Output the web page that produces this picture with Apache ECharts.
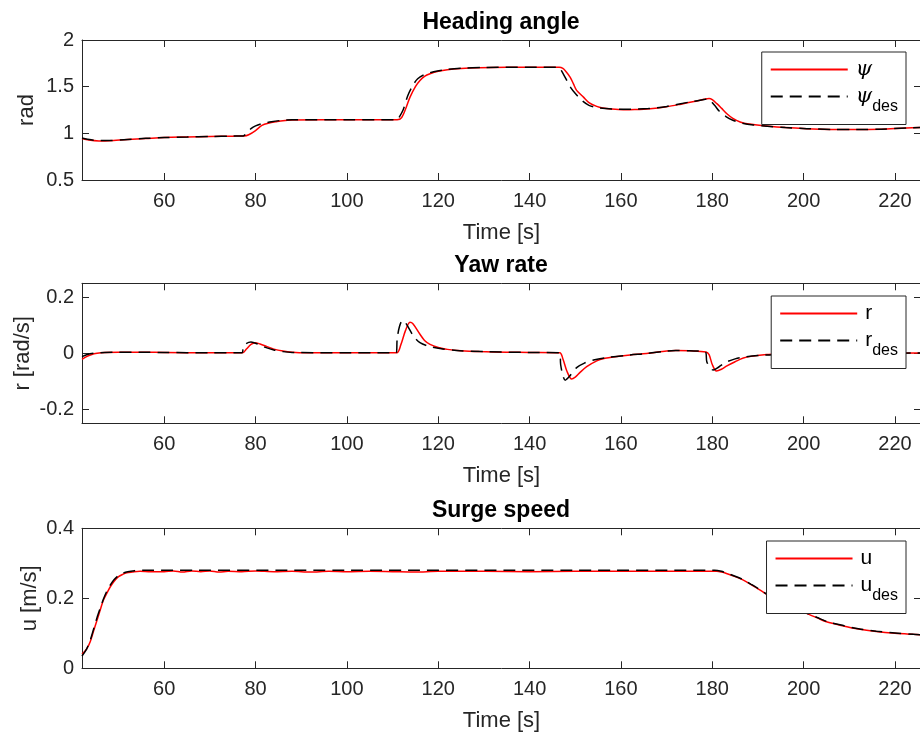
<!DOCTYPE html>
<html>
<head>
<meta charset="utf-8">
<script src="https://cdn.jsdelivr.net/npm/echarts@6/dist/echarts.min.js"></script>
<style>
  html, body { margin: 0; padding: 0; background: #fff; }
  #chart { width: 920px; height: 740px; }
</style>
</head>
<body>
<div id="chart"></div>
<script>
// ---- Time axis ----
const timeMin = 42;
const timeMax = 225.7;
const timeTicks = [60, 80, 100, 120, 140, 160, 180, 200, 220];

// ---- Heading angle [rad] ----
const headingT = [42, 43.5, 45.7, 48, 52, 56, 60, 65, 70, 75, 77.5, 78.5, 80, 81.4, 83, 84.4, 86, 88, 95, 105, 111,
  112, 113, 113.8, 115, 116, 117, 118.2, 120, 122, 125, 129, 135, 140, 146.5, 147.3, 148, 148.9, 149.6, 150.3,
  151.8, 153, 154.7, 156, 158, 160.5, 163, 166.4, 170, 172.9, 176, 178.5, 179.3, 180, 181, 182, 183.2, 184.5,
  186.1, 188, 191.9, 196, 200.7, 206, 211.6, 217, 222.5, 225.7];
const headingPsi = [0.945, 0.928, 0.919, 0.921, 0.935, 0.945, 0.955, 0.961, 0.966, 0.970, 0.972, 0.985, 1.03, 1.085, 1.11, 1.123, 1.136, 1.143, 1.145, 1.145, 1.146,
  1.17, 1.28, 1.385, 1.50, 1.566, 1.61, 1.638, 1.665, 1.682, 1.694, 1.702, 1.707, 1.708, 1.708, 1.695, 1.66, 1.60, 1.53, 1.46,
  1.388, 1.33, 1.289, 1.272, 1.26, 1.253, 1.255, 1.264, 1.285, 1.31, 1.34, 1.368, 1.372, 1.36, 1.318, 1.27, 1.21, 1.16,
  1.122, 1.10, 1.079, 1.062, 1.05, 1.042, 1.04, 1.045, 1.058, 1.062];

const headingDesT = [42, 44, 46, 48, 52, 56, 60, 65, 70, 75, 77.3, 78, 79, 80, 81.5, 83.5, 86, 88, 100, 111,
  111.3, 112.3, 113.3, 114.4, 115.5, 117, 119, 122, 125, 130, 140, 146.4, 147, 148, 149, 150.3, 151.5, 153, 155,
  158, 162, 166, 170, 175, 178.5, 179, 180.5, 181.5, 183, 184.5, 186.5, 189, 192, 196, 200.7, 206, 211.6, 217, 222.5, 225.7];
const headingPsiDes = [0.95, 0.93, 0.922, 0.923, 0.935, 0.946, 0.955, 0.960, 0.966, 0.970, 0.972, 1.0, 1.05, 1.08, 1.105, 1.125, 1.14, 1.145, 1.146, 1.146,
  1.16, 1.25, 1.40, 1.51, 1.585, 1.63, 1.66, 1.685, 1.697, 1.705, 1.708, 1.708, 1.67, 1.58, 1.49, 1.41, 1.35, 1.30, 1.275,
  1.262, 1.258, 1.265, 1.288, 1.335, 1.365, 1.37, 1.30, 1.24, 1.18, 1.14, 1.11, 1.09, 1.077, 1.062, 1.05, 1.042, 1.04, 1.045, 1.058, 1.062];

// ---- Yaw rate [rad/s] ----
const yawT = [42, 43, 44, 45.3, 47, 50, 55, 60, 70, 77.2, 78, 79, 79.9, 81, 82.5, 84, 86, 88, 91, 110.9,
  111.8, 112.8, 113.8, 114.5, 116, 117, 118.2, 120, 122, 125, 129, 135, 140, 146.6, 147.3, 148.2, 149.2, 150,
  151, 152.5, 154.7, 156.5, 158.3, 162, 165.6, 170, 172, 175, 178.6, 179.3, 180, 180.9, 182, 183.2, 185, 186.8,
  188.5, 191.9, 195, 200, 210, 225.7];
const yawR = [-0.022, -0.012, -0.005, 0, 0.003, 0.004, 0.004, 0.003, 0.002, 0.002, 0.015, 0.032, 0.038, 0.033, 0.024, 0.015, 0.008, 0.004, 0.002, 0.002,
  0.03, 0.08, 0.111, 0.105, 0.068, 0.046, 0.032, 0.021, 0.014, 0.009, 0.006, 0.004, 0.003, 0.002, -0.02, -0.065, -0.092, -0.085,
  -0.069, -0.048, -0.027, -0.018, -0.013, -0.006, -0.001, 0.008, 0.010, 0.009, 0.005, -0.005, -0.04, -0.063, -0.057, -0.045, -0.03, -0.017,
  -0.011, -0.004, -0.002, -0.001, 0, 0.001];

const yawDesT = [42, 43, 44.5, 47, 50, 55, 60, 70, 77, 77.3, 77.8, 79, 80.5, 82, 84, 86, 88, 100, 110.8,
  111, 111.5, 112.2, 113, 114.6, 116, 118, 120, 124, 130, 140, 146.6, 146.8, 147.3, 147.8, 148.6, 150.3, 152,
  154, 157, 162, 165.6, 170, 172, 175, 178.5, 178.8, 179.5, 180.2, 181.5, 183, 185, 187, 190, 195, 200, 210, 225.7];
const yawRDes = [-0.012, -0.005, 0, 0.003, 0.004, 0.004, 0.003, 0.002, 0.002, 0.02, 0.033, 0.04, 0.033, 0.022, 0.012, 0.006, 0.003, 0.002, 0.002,
  0.05, 0.095, 0.118, 0.105, 0.061, 0.038, 0.025, 0.018, 0.01, 0.006, 0.003, 0.002, -0.04, -0.08, -0.096, -0.085, -0.051, -0.035,
  -0.024, -0.015, -0.006, -0.001, 0.008, 0.010, 0.009, 0.005, -0.03, -0.05, -0.06, -0.048, -0.032, -0.02, -0.013, -0.008, -0.004, -0.002, -0.001, 0.001];

// ---- Surge speed [m/s] ----
const surgeT = [42, 43, 43.8, 44.5, 45.3, 46, 46.7, 47.5, 48.2, 49, 50, 51, 51.8, 53, 54.7, 57, 60, 62, 64, 66,
  68, 70, 72, 74, 77, 80, 84, 88, 92, 96, 100, 105, 110, 115, 120, 130, 140, 150, 160, 170, 180, 181, 182,
  183.1, 185, 186.8, 188.5, 190.4, 193, 196, 198.5, 200.6, 203, 205, 208.7, 212, 215.9, 220, 224, 225.7];
const surgeU = [0.041, 0.055, 0.076, 0.105, 0.138, 0.167, 0.195, 0.216, 0.233, 0.248, 0.262, 0.269, 0.273, 0.275, 0.277, 0.276, 0.276, 0.278, 0.275, 0.278,
  0.276, 0.278, 0.275, 0.277, 0.276, 0.278, 0.276, 0.277, 0.275, 0.277, 0.276, 0.277, 0.276, 0.275, 0.277, 0.277, 0.276, 0.277, 0.277, 0.277, 0.277, 0.277, 0.275,
  0.271, 0.262, 0.252, 0.239, 0.224, 0.202, 0.18, 0.166, 0.157, 0.144, 0.133, 0.121, 0.112, 0.105, 0.100, 0.097, 0.096];

const surgeDesT = [42, 43, 43.8, 44.5, 45.3, 46, 46.7, 47.5, 48.2, 49, 50, 51, 52, 53.5, 55, 100, 150, 180.5, 182,
  183.1, 185, 186.8, 188.5, 190.4, 193, 196, 198.5, 200.6, 203, 205, 208.7, 212, 215.9, 220, 224, 225.7];
const surgeUDes = [0.035, 0.055, 0.08, 0.11, 0.145, 0.172, 0.198, 0.222, 0.238, 0.253, 0.265, 0.272, 0.276, 0.279, 0.28, 0.28, 0.28, 0.28, 0.277,
  0.272, 0.263, 0.253, 0.240, 0.225, 0.203, 0.181, 0.167, 0.158, 0.145, 0.134, 0.122, 0.113, 0.106, 0.101, 0.097, 0.096];

// ---- Panel text ----
const panelTitles = ['Heading angle', 'Yaw rate', 'Surge speed'];
const yNames = ['rad', 'r [rad/s]', 'u [m/s]'];
const xName = 'Time [s]';
const yRanges = [[0.5, 2], [-0.25, 0.25], [0, 0.4]];
const yTicks = [[0.5, 1, 1.5, 2], [-0.2, 0, 0.2], [0, 0.2, 0.4]];
const legendNames = [['ψ', 'ψdes'], ['r', 'rdes'], ['u', 'udes']];

const zip = (t, v) => t.map((x, i) => [x, v[i]]);

// ---- Layout ----
const FONT = 'Liberation Sans';
const AX = '#262626';
const gridLeft = 82, gridWidth = 839, gridHeight = 140;
const gridTops = [40, 283.3, 528.3];
const yNameGaps = [44, 48, 41];

const grids = gridTops.map(top => ({
  left: gridLeft, top: top, width: gridWidth, height: gridHeight,
  containLabel: false, outerBoundsMode: 'none'
}));

const xAxes = [];
const yAxes = [];
gridTops.forEach((_, i) => {
  // bottom axis with labels
  xAxes.push({
    type: 'value', gridIndex: i, min: timeMin, max: timeMax, position: 'bottom',
    name: xName, nameLocation: 'middle', nameGap: 42,
    nameTextStyle: { fontFamily: FONT, fontSize: 22, color: AX },
    axisLine: { show: true, onZero: false, lineStyle: { color: AX, width: 1 } },
    axisTick: { show: true, inside: true, length: 7, customValues: timeTicks, lineStyle: { color: AX } },
    axisLabel: { customValues: timeTicks, margin: 11, fontFamily: FONT, fontSize: 20, color: AX },
    splitLine: { show: false }
  });
  // top border axis
  xAxes.push({
    type: 'value', gridIndex: i, min: timeMin, max: timeMax, position: 'top',
    axisLine: { show: true, onZero: false, lineStyle: { color: AX, width: 1 } },
    axisTick: { show: true, inside: true, length: 7, customValues: timeTicks, lineStyle: { color: AX } },
    axisLabel: { show: false },
    splitLine: { show: false }
  });
  yAxes.push({
    type: 'value', gridIndex: i, min: yRanges[i][0], max: yRanges[i][1], position: 'left',
    name: yNames[i], nameLocation: 'middle', nameGap: yNameGaps[i], nameMoveOverlap: false,
    nameTextStyle: { fontFamily: FONT, fontSize: 22, color: AX },
    axisLine: { show: true, onZero: false, lineStyle: { color: AX, width: 1 } },
    axisTick: { show: true, inside: true, length: 7, customValues: yTicks[i], lineStyle: { color: AX } },
    axisLabel: { customValues: yTicks[i], margin: 8, fontFamily: FONT, fontSize: 20, color: AX },
    splitLine: { show: false }
  });
  yAxes.push({
    type: 'value', gridIndex: i, min: yRanges[i][0], max: yRanges[i][1], position: 'right',
    axisLine: { show: true, onZero: false, lineStyle: { color: AX, width: 1 } },
    axisTick: { show: true, inside: true, length: 7, customValues: yTicks[i], lineStyle: { color: AX } },
    axisLabel: { show: false },
    splitLine: { show: false }
  });
});

const seriesData = [
  [zip(headingT, headingPsi), zip(headingDesT, headingPsiDes)],
  [zip(yawT, yawR), zip(yawDesT, yawRDes)],
  [zip(surgeT, surgeU), zip(surgeDesT, surgeUDes)]
];

const series = [];
seriesData.forEach((pair, i) => {
  series.push({
    type: 'line', name: legendNames[i][0], xAxisIndex: 2 * i, yAxisIndex: 2 * i,
    data: pair[0], symbol: 'none', showSymbol: false, smooth: 0.3, clip: true, z: 2,
    lineStyle: { color: '#ff0000', width: 1.5 }, itemStyle: { color: '#ff0000' }
  });
  series.push({
    type: 'line', name: legendNames[i][1], xAxisIndex: 2 * i, yAxisIndex: 2 * i,
    data: pair[1], symbol: 'none', showSymbol: false, smooth: 0.3, clip: true, z: 3,
    lineStyle: { color: '#000000', width: 1.5, type: [12, 7] }, itemStyle: { color: '#000000' }
  });
});

const isPsi = n => n.charAt(0) === 'ψ';
const legendRich = {
  g: { fontFamily: 'DejaVu Serif', fontStyle: 'italic', fontSize: 21, lineHeight: 24, color: '#000', padding: [0, 0, 0, 3] },
  gd: { fontFamily: 'DejaVu Serif', fontStyle: 'italic', fontSize: 21, lineHeight: 36, color: '#000', padding: [0, 0, 0, 3] },
  t: { fontFamily: FONT, fontSize: 21, lineHeight: 24, color: '#000', padding: [0, 0, 0, 3] },
  td: { fontFamily: FONT, fontSize: 21, lineHeight: 36, color: '#000', padding: [0, 0, 0, 3] },
  s: { fontFamily: FONT, fontSize: 16, lineHeight: 16, verticalAlign: 'bottom', color: '#000' }
};
const legendFormatter = name => {
  if (name.endsWith('des')) {
    const base = name.slice(0, -3);
    return '{' + (isPsi(base) ? 'gd' : 'td') + '|' + base + '}{s|des}';
  }
  return '{' + (isPsi(name) ? 'g' : 't') + '|' + name + '}';
};
const legendTops = [52, 296, 541];
const legends = legendTops.map((top, i) => ({
  data: legendNames[i], orient: 'vertical', right: 14, top: top,
  padding: [7, 8, 10, 8], itemGap: 6, itemWidth: 77, itemHeight: 14,
  backgroundColor: '#ffffff', borderColor: AX, borderWidth: 1, borderRadius: 0,
  selectedMode: false, formatter: legendFormatter,
  itemStyle: { opacity: 0 },
  textStyle: { rich: legendRich }
}));

const titleTops = [11, 254.5, 499.5];
const titles = panelTitles.map((text, i) => ({
  text: text, left: 501, top: titleTops[i], textAlign: 'center', padding: 0,
  textStyle: { fontFamily: FONT, fontSize: 23, fontWeight: 'bold', color: '#000' }
}));

const chart = echarts.init(document.getElementById('chart'), null, { renderer: 'canvas' });
chart.setOption({
  animation: false,
  backgroundColor: '#ffffff',
  title: titles,
  legend: legends,
  grid: grids,
  xAxis: xAxes,
  yAxis: yAxes,
  series: series
});
</script>
</body>
</html>
